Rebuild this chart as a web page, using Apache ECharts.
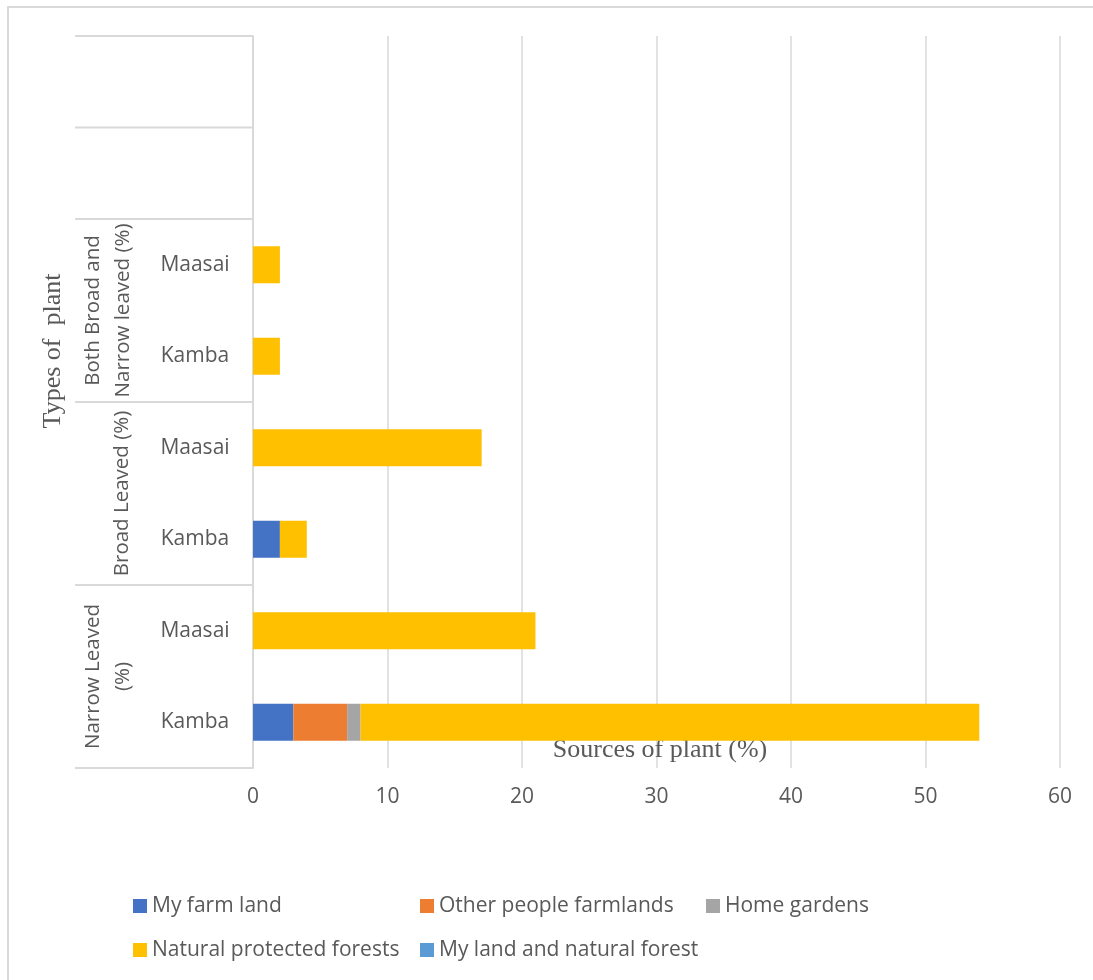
<!DOCTYPE html>
<html><head><meta charset="utf-8">
<script src="https://cdn.jsdelivr.net/npm/echarts@6/dist/echarts.min.js"></script>
<style>html,body{margin:0;padding:0;background:#fff}#c{width:1093px;height:980px}</style>
</head><body><div id="c"></div><script>
// ---- data ----
const categories = ['Kamba', 'Maasai', 'Kamba', 'Maasai', 'Kamba', 'Maasai', '', ''];
const groupLabels = ['Narrow Leaved\n(%)', 'Broad Leaved (%)', 'Both Broad and\nNarrow leaved (%)', '', ''];
const groupFrom = [0, 2, 4, 6, 7];
const groupTo = [1, 3, 5, 6, 7];
const seriesNames = ['My farm land', 'Other people farmlands', 'Home gardens', 'Natural protected forests', 'My land and natural forest'];
const myFarmLand = [3, null, 2, null, null, null, null, null];
const otherPeopleFarmlands = [4, null, null, null, null, null, null, null];
const homeGardens = [1, null, null, null, null, null, null, null];
const naturalProtectedForests = [46, 21, 2, 17, 2, 2, null, null];
const myLandAndNaturalForest = [null, null, null, null, null, null, null, null];
const xMin = 0, xMax = 60, xInterval = 10;
const xTitle = 'Sources of plant (%)';
const yTitle = 'Types of  plant';

const colors = ['#4472C4', '#ED7D31', '#A5A5A5', '#FFC000', '#5B9BD5'];
const seriesData = [myFarmLand, otherPeopleFarmlands, homeGardens, naturalProtectedForests, myLandAndNaturalForest];

const textColor = '#595959';
const sansFont = '"Open Sans", "Liberation Sans", sans-serif';
const serifFont = '"Liberation Serif", "DejaVu Serif", serif';
const lineColor = '#d9d9d9';

const legendPos = [[133, 895], [420, 895], [706, 895], [133, 939], [420, 939]];

const chart = echarts.init(document.getElementById('c'));
const option = {
  animation: false,
  backgroundColor: '#fff',
  grid: { left: 253, right: 33, top: 36, bottom: 212, containLabel: false },
  xAxis: {
    type: 'value', min: xMin, max: xMax, interval: xInterval,
    axisLine: { show: false }, axisTick: { show: false },
    splitLine: { show: true, lineStyle: { color: lineColor, width: 1.5 } },
    axisLabel: { color: textColor, fontSize: 21, fontFamily: sansFont, margin: 19 }
  },
  yAxis: {
    type: 'category', data: categories,
    axisLine: { show: true, lineStyle: { color: lineColor, width: 2 } },
    axisTick: { show: false },
    splitLine: { show: false },
    axisLabel: { color: textColor, fontSize: 21, fontFamily: sansFont, align: 'center', margin: 58 }
  },
  legend: seriesNames.map((n, i) => ({
    data: [n], left: legendPos[i][0], top: legendPos[i][1], padding: 0,
    icon: 'rect', itemWidth: 14, itemHeight: 14, selectedMode: false,
    textStyle: { color: textColor, fontSize: 21, fontFamily: sansFont, lineHeight: 22 }
  })),
  series: seriesNames.map((n, i) => ({
    name: n, type: 'bar', stack: 'total', data: seriesData[i],
    barWidth: 37, itemStyle: { color: colors[i] }, silent: true
  }))
};
chart.setOption(option);

// group separators and labels for the two-level category axis
const yc = i => chart.convertToPixel({ yAxisIndex: 0 }, i);
const band = yc(0) - yc(1);
const axisX = chart.convertToPixel({ xAxisIndex: 0 }, 0);
const graphics = [];
graphics.push({ type: 'rect', shape: { x: 8, y: 7, width: 1200, height: 1200 }, style: { fill: null, stroke: lineColor, lineWidth: 2 }, silent: true });
const bounds = new Set();
groupFrom.forEach((f, gi) => {
  const yb = yc(f) + band / 2, yt = yc(groupTo[gi]) - band / 2;
  bounds.add(Math.round(yb * 2) / 2); bounds.add(Math.round(yt * 2) / 2);
  if (groupLabels[gi]) {
    const twoLine = groupLabels[gi].indexOf('\n') >= 0;
    graphics.push({
      type: 'text', x: twoLine ? 108 : 122, y: (yb + yt) / 2, rotation: Math.PI / 2, silent: true,
      style: { text: groupLabels[gi], fill: textColor, fontSize: 20.5, fontFamily: sansFont, align: 'center', verticalAlign: 'middle', lineHeight: 30 }
    });
  }
});
bounds.forEach(y => {
  graphics.push({ type: 'line', shape: { x1: 75, y1: y, x2: axisX, y2: y }, style: { stroke: lineColor, lineWidth: 2 }, silent: true });
});
graphics.push({
  type: 'text', x: 53, y: 351, rotation: Math.PI / 2, silent: true,
  style: { text: yTitle, fill: textColor, fontSize: 26, fontFamily: serifFont, align: 'center', verticalAlign: 'middle' }
});
graphics.push({
  type: 'text', x: 660, y: 750, silent: true,
  style: { text: xTitle, fill: textColor, fontSize: 26, fontFamily: serifFont, align: 'center', verticalAlign: 'middle' }
});
chart.setOption({ graphic: graphics });
</script></body></html>
